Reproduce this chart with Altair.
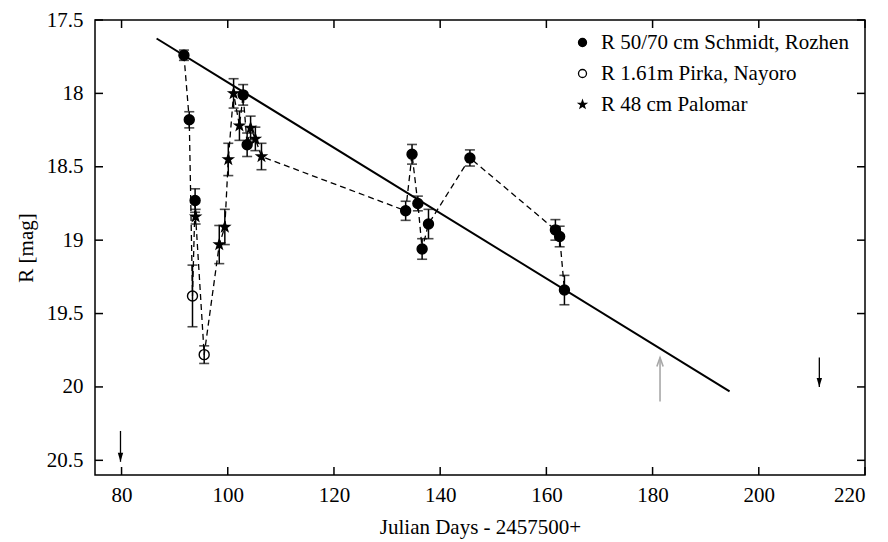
import altair as alt
import pandas as pd

# ---- data ----
src_names = ["R 50/70 cm Schmidt, Rozhen", "R 1.61m Pirka, Nayoro", "R 48 cm Palomar"]

rozhen_day = [91.75, 92.75, 93.85, 102.9, 103.65, 133.5, 134.7, 135.8, 136.6, 137.8, 145.6, 161.7, 162.5, 163.4]
rozhen_mag = [17.74, 18.18, 18.73, 18.01, 18.35, 18.80, 18.415, 18.75, 19.06, 18.89, 18.44, 18.93, 18.975, 19.34]
rozhen_err = [0.035, 0.055, 0.08, 0.07, 0.08, 0.065, 0.067, 0.05, 0.07, 0.1, 0.055, 0.07, 0.07, 0.1]

pirka_day = [93.36, 95.56]
pirka_mag = [19.38, 19.78]
pirka_err = [0.21, 0.06]

palomar_day = [93.95, 98.4, 99.45, 100.1, 101.1, 102.2, 104.3, 105.2, 106.35]
palomar_mag = [18.84, 19.03, 18.91, 18.45, 18.0, 18.22, 18.235, 18.31, 18.43]
palomar_err = [0.05, 0.13, 0.12, 0.11, 0.1, 0.1, 0.08, 0.08, 0.09]

fit_day = [86.6, 194.5]
fit_mag = [17.626, 20.03]

down_arrow_day = [79.8, 211.4]
down_arrow_from = [20.30, 19.80]
down_arrow_to = [20.51, 20.00]

up_arrow_day = [181.4]
up_arrow_from = [20.10]
up_arrow_to = [19.80]

x_ticks = [80, 100, 120, 140, 160, 180, 200, 220]
y_ticks = [17.5, 18, 18.5, 19, 19.5, 20, 20.5]

STAR = ("M0,-1L0.235,-0.324L0.951,-0.309L0.38,0.124L0.588,0.809L0,0.4"
        "L-0.588,0.809L-0.38,0.124L-0.951,-0.309L-0.235,-0.324Z")

# ---- tables ----
rows = []
for name, d, m, e in [(src_names[0], rozhen_day, rozhen_mag, rozhen_err),
                      (src_names[1], pirka_day, pirka_mag, pirka_err),
                      (src_names[2], palomar_day, palomar_mag, palomar_err)]:
    for di, mi, ei in zip(d, m, e):
        rows.append({"day": di, "mag": mi, "lo": mi - ei, "hi": mi + ei, "src": name})
pts = pd.DataFrame(rows).sort_values("day")

fit = pd.DataFrame({"day": fit_day, "mag": fit_mag})
darr = pd.DataFrame({"day": down_arrow_day, "mag": down_arrow_from, "end": down_arrow_to})
uarr = pd.DataFrame({"day": up_arrow_day, "mag": up_arrow_from, "end": up_arrow_to})
xt = pd.DataFrame({"day": x_ticks})
yt = pd.DataFrame({"mag": y_ticks})

W, H = 770, 455
FONT = "Liberation Serif"

x_scale = alt.Scale(domain=[75, 220], nice=False, zero=False)
y_scale = alt.Scale(domain=[17.5, 20.6], reverse=True, nice=False, zero=False)
x_axis = alt.Axis(title="Julian Days - 2457500+", values=x_ticks, format="d", orient="bottom",
                  labelPadding=9, titlePadding=11)
y_axis = alt.Axis(title="R [mag]", values=y_ticks, labelExpr="'' + datum.value", orient="left",
                  labelPadding=12, titlePadding=10)


def X(field="day"):
    return alt.X(f"{field}:Q", scale=x_scale, axis=x_axis)


def Y(field="mag"):
    return alt.Y(f"{field}:Q", scale=y_scale, axis=y_axis)


leg = alt.Legend(title=None, orient="none", legendX=477, legendY=12, symbolSize=64,
                 labelFont=FONT, labelFontSize=21, labelColor="black", rowPadding=9,
                 labelOffset=8, labelLimit=500, padding=0, symbolStrokeWidth=1.3)

dashed = alt.Chart(pts).mark_line(color="black", strokeWidth=1.3, strokeDash=[6, 4]).encode(
    x=X(), y=Y(), order="day:Q")

errbars = alt.Chart(pts).mark_rule(color="black", strokeWidth=1.5).encode(
    x=X(), y=Y("lo"), y2="hi:Q")
cap_lo = alt.Chart(pts).mark_tick(orient="horizontal", size=10, thickness=1.6, color="black").encode(
    x=X(), y=Y("lo"))
cap_hi = alt.Chart(pts).mark_tick(orient="horizontal", size=10, thickness=1.6, color="black").encode(
    x=X(), y=Y("hi"))

fit_line = alt.Chart(fit).mark_line(color="black", strokeWidth=2).encode(x=X(), y=Y())

points = alt.Chart(pts).mark_point(filled=True, strokeWidth=1.4, opacity=1, size=100).encode(
    x=X(), y=Y(),
    shape=alt.Shape("src:N", scale=alt.Scale(domain=src_names, range=["circle", "circle", STAR]), legend=leg),
    fill=alt.Fill("src:N", scale=alt.Scale(domain=src_names, range=["black", "transparent", "black"]), legend=leg),
    stroke=alt.Stroke("src:N", scale=alt.Scale(domain=src_names, range=["black", "black", "black"]), legend=leg),
)

down_shaft = alt.Chart(darr).mark_rule(color="black", strokeWidth=1.3).encode(x=X(), y=Y(), y2="end:Q")
down_head = alt.Chart(darr).mark_point(shape="M-0.3,-1L0,0L0.3,-1Z", filled=True, color="black",
                                        size=324, opacity=1).encode(x=X(), y=Y("end"))
up_shaft = alt.Chart(uarr).mark_rule(color="#a8a8a8", strokeWidth=1.6).encode(x=X(), y=Y(), y2="end:Q")
up_head = alt.Chart(uarr).mark_point(shape="M-0.35,1L0,0L0.35,1", filled=False, color="#a8a8a8",
                                      strokeWidth=1.6, size=324, opacity=1).encode(x=X(), y=Y("end"))

tick_bottom = alt.Chart(xt).mark_rule(color="black", strokeWidth=1.5).encode(
    x=X(), y=alt.value(H), y2=alt.value(H - 8))
tick_top = alt.Chart(xt).mark_rule(color="black", strokeWidth=1.5).encode(
    x=X(), y=alt.value(0), y2=alt.value(8))
tick_left = alt.Chart(yt).mark_rule(color="black", strokeWidth=1.5).encode(
    y=Y(), x=alt.value(0), x2=alt.value(8))
tick_right = alt.Chart(yt).mark_rule(color="black", strokeWidth=1.5).encode(
    y=Y(), x=alt.value(W), x2=alt.value(W - 8))

chart = alt.layer(
    dashed, errbars, cap_lo, cap_hi, fit_line, points,
    down_shaft, down_head, up_shaft, up_head,
    tick_bottom, tick_top, tick_left, tick_right,
).properties(
    width=W, height=H,
    autosize=alt.AutoSizeParams(type="none"),
    padding={"left": 87, "top": 12, "right": 10, "bottom": 66},
    background="white",
).configure(
    font=FONT
).configure_view(
    stroke="black", strokeWidth=1.5
).configure_axis(
    labelFont=FONT, labelFontSize=21, labelColor="black",
    titleFont=FONT, titleFontSize=21, titleFontWeight="normal", titleColor="black",
    grid=False, domain=False, ticks=False,
).configure_legend(
    labelFont=FONT, labelFontSize=21, labelColor="black", labelLimit=500
)

chart.save("out.html", embed_options={"renderer": "svg", "actions": False})
